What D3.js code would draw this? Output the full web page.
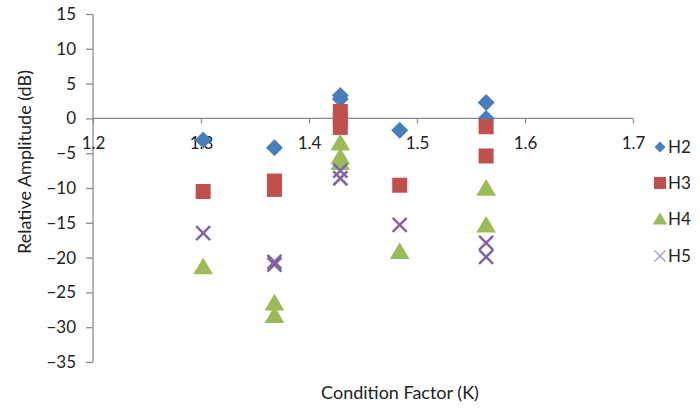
<!DOCTYPE html>
<html>
<head>
<meta charset="utf-8">
<script src="https://cdn.jsdelivr.net/npm/d3@7"></script>
<style>
  body { margin: 0; background: #fff; }
  text { font-family: Lato, "Open Sans", sans-serif; fill: #222; }
</style>
</head>
<body>
<script>
// condition factor (K) for each measurement
var h2K = [1.302, 1.368, 1.429, 1.429, 1.484, 1.564, 1.564];
var h2 = [-3.1, -4.2, 3.3, 2.8, -1.7, 2.3, 0.0];

var h3K = [1.302, 1.368, 1.368, 1.429, 1.429, 1.429, 1.484, 1.564, 1.564];
var h3 = [-10.5, -9.0, -10.2, 1.0, 0.0, -1.3, -9.6, -1.2, -5.4];

var h4K = [1.302, 1.368, 1.368, 1.429, 1.429, 1.429, 1.484, 1.564, 1.564];
var h4 = [-21.3, -26.5, -28.3, -3.5, -5.5, -6.3, -19.1, -10.0, -15.3];

var h5K = [1.302, 1.368, 1.368, 1.429, 1.429, 1.484, 1.564, 1.564];
var h5 = [-16.5, -20.6, -21.0, -7.5, -8.6, -15.3, -17.9, -19.9];

var seriesNames = ["H2", "H3", "H4", "H5"];
var seriesColors = ["#4a7ebb", "#c0504d", "#9bbb59", "#8064a2"];
var xTicks = [1.2, 1.3, 1.4, 1.5, 1.6, 1.7];
var yTicks = [15, 10, 5, 0, -5, -10, -15, -20, -25, -30, -35];

var width = 700, height = 416;

var svg = d3.select("body").append("svg")
	.attr("width", width)
	.attr("height", height);

var x = d3.scaleLinear().domain([1.2, 1.7]).range([93, 633]);
var y = d3.scaleLinear().domain([-35, 15]).range([362, 14]);

var axisColor = "#8c8c8c";

// y axis (vertical, at x = 1.2)
var yAxis = svg.append("g")
	.attr("transform", "translate(" + x(1.2) + ",0)")
	.call(d3.axisLeft(y).tickValues(yTicks).tickSize(7).tickPadding(10).tickFormat(d3.format("d")));
yAxis.selectAll("text").style("font-size", "17px");

// x axis crosses at y = 0, labels hang below
var xAxis = svg.append("g")
	.attr("transform", "translate(0," + y(0) + ")")
	.call(d3.axisBottom(x).tickValues(xTicks).tickSize(5).tickPadding(14).tickFormat(d3.format(".1f")));
xAxis.selectAll("text").style("font-size", "17px");

svg.selectAll(".domain, .tick line").attr("stroke", axisColor).attr("stroke-width", 1.3);
xAxis.select(".domain").attr("d", "M" + x(1.2) + ",0H" + x(1.7));
yAxis.select(".domain").attr("d", "M0," + y(15) + "V" + y(-35));

// axis titles
svg.append("text")
	.attr("x", 400).attr("y", 399)
	.attr("text-anchor", "middle")
	.style("font-size", "18px")
	.text("Condition Factor (K)");

svg.append("text")
	.attr("transform", "translate(31,162) rotate(-90)")
	.attr("text-anchor", "middle")
	.style("font-size", "18px")
	.text("Relative Amplitude (dB)");

// marker shapes
function markerPath(kind, s) {
	if (kind == 0) return "M0," + (-s) + "L" + s + ",0L0," + s + "L" + (-s) + ",0Z";
	if (kind == 1) return "M" + (-s) + "," + (-s) + "H" + s + "V" + s + "H" + (-s) + "Z";
	if (kind == 2) return "M0," + (-s) + "L" + (s * 1.1) + "," + (s * 0.85) + "H" + (-s * 1.1) + "Z";
	return "M" + (-s) + "," + (-s) + "L" + s + "," + s + "M" + s + "," + (-s) + "L" + (-s) + "," + s;
}

var allSeries = [
	{ k: h2K, v: h2 },
	{ k: h3K, v: h3 },
	{ k: h4K, v: h4 },
	{ k: h5K, v: h5 }
];
var markerSize = [8.5, 7.5, 9, 7];

allSeries.forEach(function (s, i) {
	var pts = s.k.map(function (kk, j) { return { k: kk, v: s.v[j] }; });
	svg.append("g").selectAll("path")
		.data(pts)
		.enter()
		.append("path")
		.attr("transform", function (d) { return "translate(" + x(d.k) + "," + y(d.v) + ")"; })
		.attr("d", markerPath(i, markerSize[i]))
		.attr("fill", i == 3 ? "none" : seriesColors[i])
		.attr("stroke", i == 3 ? seriesColors[i] : "none")
		.attr("stroke-width", 2.5);
});

// legend
var legend = svg.append("g");
var legendY = [147, 183, 219, 256];
var legendSize = [5.5, 6, 6.5, 5.5];
seriesNames.forEach(function (name, i) {
	legend.append("path")
		.attr("transform", "translate(660," + legendY[i] + ")")
		.attr("d", markerPath(i, legendSize[i]))
		.attr("fill", i == 3 ? "none" : seriesColors[i])
		.attr("stroke", i == 3 ? "#b3a2c7" : "none")
		.attr("stroke-width", 1.5);
	legend.append("text")
		.attr("x", 668).attr("y", legendY[i] + 6)
		.style("font-size", "17px")
		.text(name);
});
</script>
</body>
</html>
